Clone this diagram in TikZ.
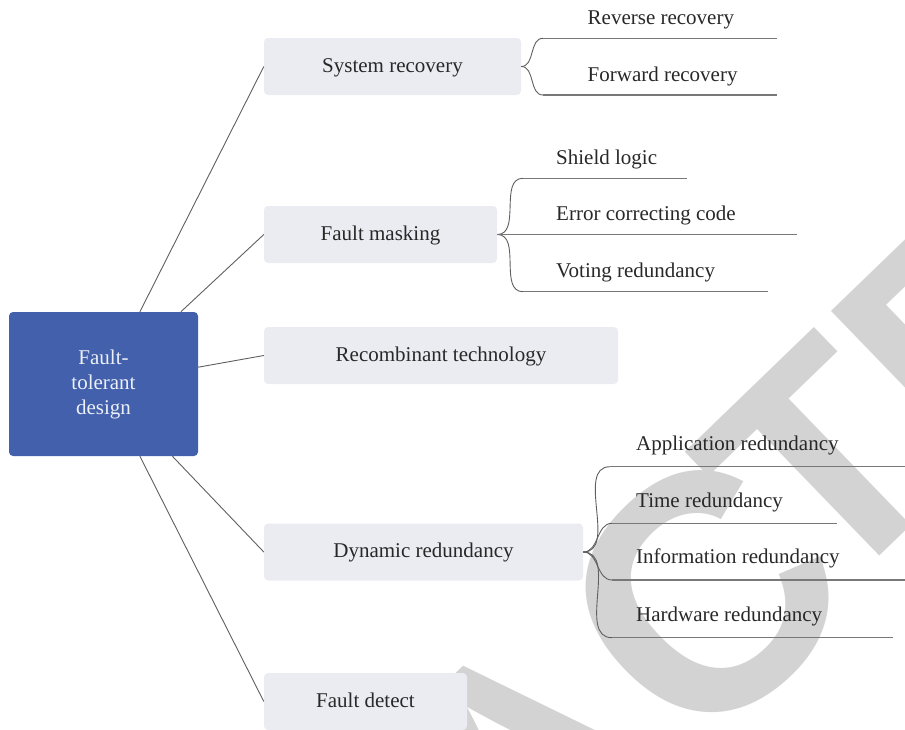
\documentclass[tikz,border=0pt]{standalone}
\usepackage{fontspec}
\setmainfont{Liberation Serif}
\newfontfamily\wmfont{Liberation Sans}
\definecolor{rootblue}{RGB}{66,96,172}
\definecolor{rootwhite}{RGB}{236,239,246}
\definecolor{boxfill}{RGB}{235,236,241}
\definecolor{txt}{RGB}{40,40,40}
\definecolor{linec}{RGB}{95,95,95}
\definecolor{ulc}{RGB}{120,120,120}
\definecolor{wmgray}{RGB}{211,211,211}
\begin{document}
\begin{tikzpicture}[x=1pt,y=-1pt,
  every node/.style={font=\fontsize{21}{25}\selectfont, text=txt},
  rootbox/.style={fill=rootblue, rounded corners=4pt, minimum width=189pt, minimum height=144pt, text=rootwhite, align=center, inner sep=0pt},
  box/.style={fill=boxfill, rounded corners=4pt, minimum height=57pt, inner sep=0pt, text height=15.75pt, text depth=4.2pt},
  conn/.style={draw=linec, line width=0.9pt},
  brace/.style={draw=linec, line width=0.9pt},
  uline/.style={draw=ulc, line width=1.4pt},
  leaf/.style={anchor=base west, inner sep=0pt},
  wm/.style={anchor=base west, rotate=44, inner sep=0pt, text=wmgray, font=\wmfont\bfseries\fontsize{305}{305}\selectfont}]
\useasboundingbox (0,0) rectangle (905,729);
\begin{scope}
\clip (0,0) rectangle (905,729);
\node[wm] (wm) at (-86,1488.4) {RETRA\kern15.6pt\raisebox{-22pt}{\fontsize{335}{335}\selectfont C}\kern-37.3pt TED};
\end{scope}

% main nodes
\node[rootbox] (root) at (103.5,384) {Fault-\\tolerant\\design};
\node[box, minimum width=257pt] (sr) at (392.5,66.5) {System recovery};
\node[box, minimum width=233pt] (fm) at (380.5,234.5) {Fault masking};
\node[box, minimum width=354pt] (rt) at (441,355.5) {Recombinant technology};
\node[box, minimum width=319pt] (dr) at (423.5,552) {Dynamic redundancy};
\node[box, minimum width=203pt] (fd) at (365.5,701.5) {Fault detect};

\draw[conn] (root) -- (sr.west);
\draw[conn] (root) -- (fm.west);
\draw[conn] (root) -- (rt.west);
\draw[conn] (root) -- (dr.west);
\draw[conn] (root) -- (fd.west);

% System recovery group
\coordinate (rr-s) at (543,38.3);  \coordinate (rr-e) at (777,38.3);
\coordinate (fr-s) at (543,95);    \coordinate (fr-e) at (777,95);
\draw[brace] (sr.east) to[out=0,in=180] (rr-s);
\draw[brace] (sr.east) to[out=0,in=180] (fr-s);
\draw[uline] (rr-s) -- (rr-e);
\draw[uline] (fr-s) -- (fr-e);
\node[leaf] (rr) at (587.5,24.5) {Reverse recovery};
\node[leaf] (fr) at (587.5,81) {Forward recovery};

% Fault masking group
\coordinate (sl-s) at (523,178.3); \coordinate (sl-e) at (687,178.3);
\coordinate (ec-e) at (797,234.5);
\coordinate (vr-s) at (523,291.7); \coordinate (vr-e) at (768,291.7);
\draw[brace] (fm.east) to[out=0,in=180] (sl-s);
\draw[brace] (fm.east) to[out=0,in=180] (vr-s);
\draw[uline] (sl-s) -- (sl-e);
\draw[uline] (fm.east) -- (ec-e);
\draw[uline] (vr-s) -- (vr-e);
\node[leaf] (sl) at (556,164) {Shield logic};
\node[leaf] (ec) at (556,220.5) {Error correcting code};
\node[leaf] (vr) at (556,277.5) {Voting redundancy};

% Dynamic redundancy group
\coordinate (ar-s) at (610,466.7); \coordinate (ar-e) at (905,466.7);
\coordinate (tr-s) at (612,523.3); \coordinate (tr-e) at (837,523.3);
\coordinate (ir-s) at (612,580);   \coordinate (ir-e) at (905,580);
\coordinate (hr-s) at (612,637.7); \coordinate (hr-e) at (893,637.7);
\draw[brace] (dr.east) to[out=0,in=180] (ar-s);
\draw[brace] (dr.east) to[out=0,in=180] (tr-s);
\draw[brace] (dr.east) to[out=0,in=180] (ir-s);
\draw[brace] (dr.east) to[out=0,in=180] (hr-s);
\draw[uline] (ar-s) -- (ar-e);
\draw[uline] (tr-s) -- (tr-e);
\draw[uline] (ir-s) -- (ir-e);
\draw[uline] (hr-s) -- (hr-e);
\node[leaf] (ar) at (636,450) {Application redundancy};
\node[leaf] (tr) at (636,507) {Time redundancy};
\node[leaf] (ir) at (636,563.5) {Information redundancy};
\node[leaf] (hr) at (636,621) {Hardware redundancy};
\end{tikzpicture}
\end{document}
